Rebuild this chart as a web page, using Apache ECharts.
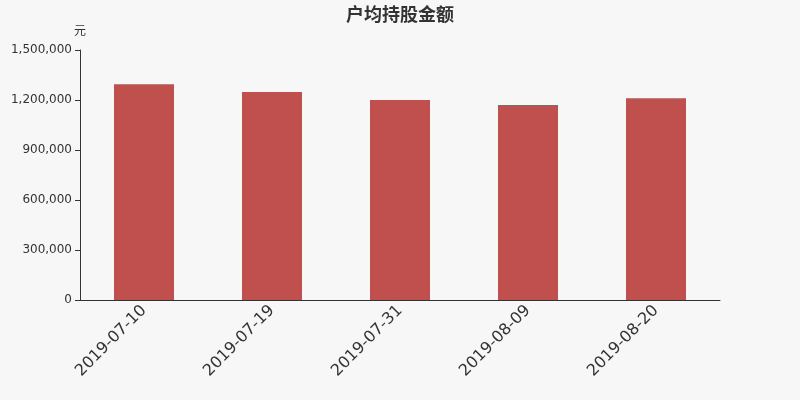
<!DOCTYPE html>
<html><head><meta charset="utf-8">
<script src="https://cdn.jsdelivr.net/npm/echarts@6/dist/echarts.min.js"></script>
<style>html,body{margin:0;padding:0;background:#f7f7f7}#c{width:800px;height:400px}</style>
</head><body><div id="c"></div>
<script>
var categories = ['2019-07-10','2019-07-19','2019-07-31','2019-08-09','2019-08-20'];
var values = [1294000, 1248000, 1200000, 1170000, 1210000];
var chart = echarts.init(document.getElementById('c'));
chart.setOption({
  backgroundColor: '#f7f7f7',
  animation: false,
  textStyle: {fontFamily: 'DejaVu Sans'},
  title: {text: '户均持股金额', left: 'center', top: 2, textStyle: {fontSize: 18, fontWeight: 'bold', color: '#333', fontFamily: 'DejaVu Sans, Noto Sans CJK SC'}},
  grid: {left: 80, right: 80, top: 50, bottom: 100},
  xAxis: {type: 'category', data: categories,
    axisLine: {lineStyle: {color: '#333'}},
    axisTick: {length: 5, lineStyle: {color: '#333'}},
    axisLabel: {rotate: 45, fontSize: 16, color: '#333', margin: 8, fontFamily: 'DejaVu Sans'}},
  yAxis: {type: 'value', name: '元', nameGap: 12, min: 0, max: 1500000, interval: 300000,
    nameTextStyle: {color: '#333', fontSize: 12, fontFamily: 'DejaVu Sans, Noto Sans CJK SC'},
    axisLine: {show: true, lineStyle: {color: '#333'}},
    axisTick: {show: true, lineStyle: {color: '#333'}},
    splitLine: {show: false},
    axisLabel: {color: '#333', fontSize: 12, fontFamily: 'DejaVu Sans', formatter: function(v){return v.toLocaleString('en-US');}}},
  series: [{type: 'bar', data: values, barWidth: 60, itemStyle: {color: '#c0504d'}}]
});
</script></body></html>
